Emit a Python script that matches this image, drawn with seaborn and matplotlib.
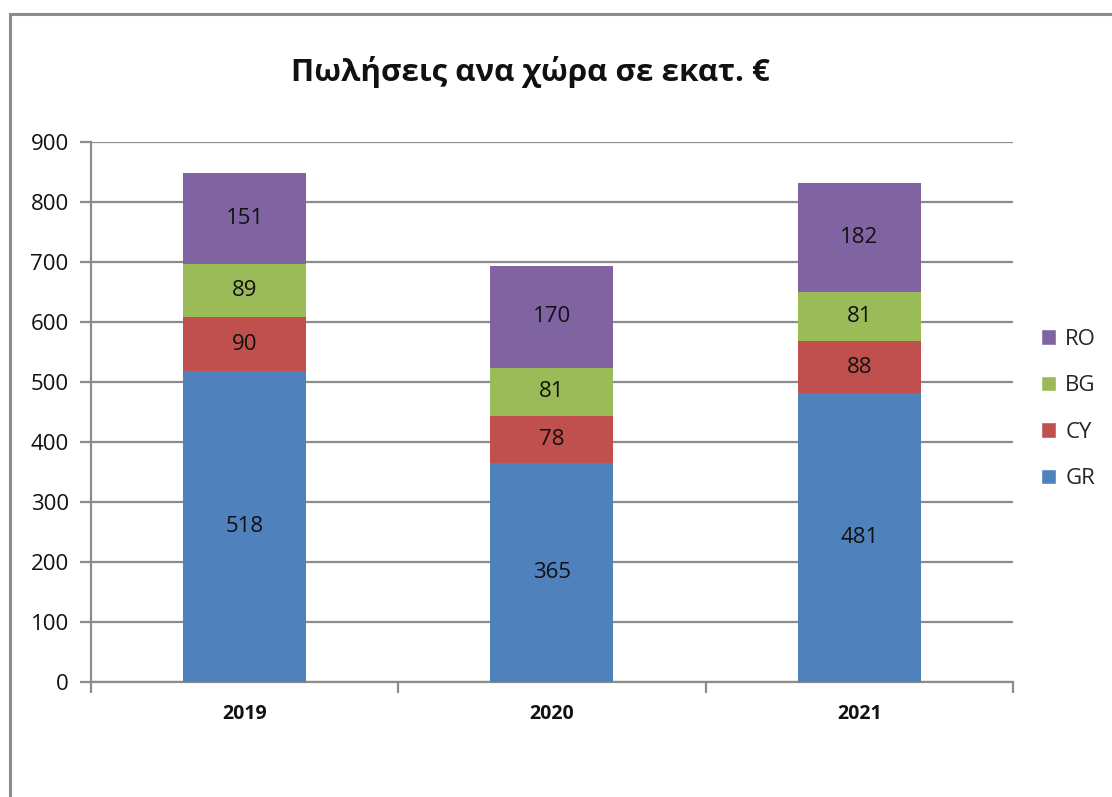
import numpy as np
import pandas as pd
import matplotlib
matplotlib.use("Agg")
import matplotlib.pyplot as plt
import seaborn as sns
from matplotlib.patches import Rectangle, Patch

# ---------------- DATA ---------------- #

years = ["2019", "2020", "2021"]
countries = ["GR", "CY", "BG", "RO"]
gr = [518, 365, 481]
cy = [90, 78, 88]
bg = [89, 81, 81]
ro = [151, 170, 182]

colors = {"GR": "#4F81BD", "CY": "#C0504D", "BG": "#9BBB59", "RO": "#8064A2"}

df = pd.DataFrame({"year": years, "GR": gr, "CY": cy, "BG": bg, "RO": ro})
cum = df[countries].cumsum(axis=1)

# ---------------- PLOT ---------------- #

sns.set_style("white")
plt.rcParams["font.family"] = ["Open Sans", "DejaVu Sans"]

fig = plt.figure(figsize=(11.12, 7.97), dpi=100)
ax = fig.add_axes([0.0818, 0.1443, 0.829, 0.6775])

# stacked bars: draw cumulative totals from the top series down
for c in reversed(countries):
    sns.barplot(x=df["year"], y=cum[c], color=colors[c], width=0.4,
                saturation=1, linewidth=0, ax=ax, zorder=3)

for i in range(len(years)):
    for c in countries:
        mid = cum.loc[i, c] - df.loc[i, c] / 2
        ax.text(i, mid, str(df.loc[i, c]), ha="center", va="center",
                fontsize=16, color="#111111", zorder=4)

ax.set_ylim(0, 900)
ax.set_xlim(-0.5, 2.5)
ax.set_yticks(range(0, 901, 100))
ax.yaxis.grid(True, color="#8c8c8c", linewidth=1.6, zorder=0)
ax.set_xlabel("")
ax.set_ylabel("")

for s in ["top", "right"]:
    ax.spines[s].set_visible(False)
for s in ["left", "bottom"]:
    ax.spines[s].set_color("#8c8c8c")
    ax.spines[s].set_linewidth(1.6)

ax.tick_params(axis="y", which="both", left=True, length=8, width=1.6,
               color="#8c8c8c", labelsize=16, pad=8, labelcolor="#111111")
ax.set_xticks([0, 1, 2])
ax.set_xticklabels(years, fontweight="bold", fontsize=14)
ax.tick_params(axis="x", bottom=False, pad=12, labelcolor="#111111")
ax.set_xticks([-0.5, 0.5, 1.5, 2.5], minor=True)
ax.tick_params(axis="x", which="minor", bottom=True, length=8, width=1.6,
               color="#8c8c8c")

handles = [Patch(facecolor=colors[c], label=c) for c in reversed(countries)]
fig.legend(handles=handles, loc="center left", bbox_to_anchor=(0.918, 0.487),
           frameon=False, fontsize=16, handlelength=0.7, handleheight=0.7,
           handletextpad=0.4, labelspacing=1.15)

fig.text(0.477, 0.91, "Πωλήσεις ανα χώρα σε εκατ. €", ha="center",
         va="center", fontsize=22.5, fontweight="bold", color="#111111")

# chart frame like the spreadsheet chart area
fig.patches.append(Rectangle((0.009, -0.05), 1.1, 1.032, transform=fig.transFigure,
                             fill=False, edgecolor="#8c8c8c", linewidth=2.2))

fig.savefig("out.png", dpi=100)
